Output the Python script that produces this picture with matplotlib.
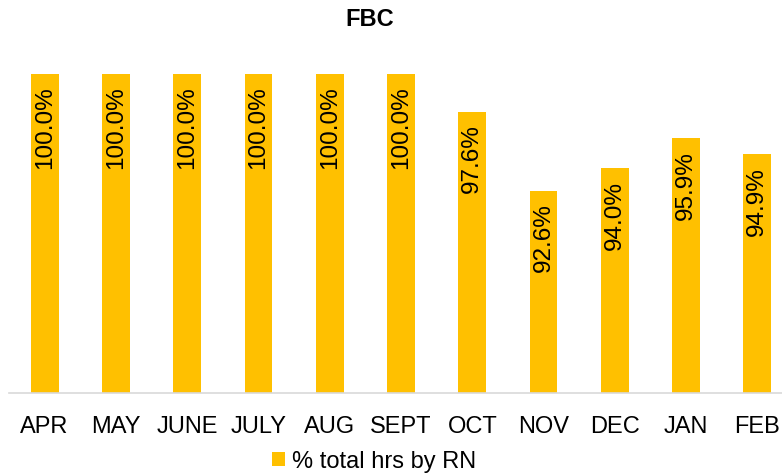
import matplotlib.pyplot as plt
import numpy as np

# chart data
months = ['APR', 'MAY', 'JUNE', 'JULY', 'AUG', 'SEPT', 'OCT', 'NOV', 'DEC', 'JAN', 'FEB']
pct_rn = [1.000, 1.000, 1.000, 1.000, 1.000, 1.000, 0.976, 0.926, 0.940, 0.959, 0.949]
series_name = '% total hrs by RN'

plt.rcParams['font.family'] = ['Liberation Sans', 'DejaVu Sans']

fig = plt.figure(figsize=(7.82, 4.77), dpi=100)
# axes runs a little past the right edge, like the cropped original
ax = fig.add_axes([9 / 782, 83 / 477, 784 / 782, 351 / 477])

x = np.arange(len(months))
bars = ax.bar(x, pct_rn, width=0.39, color='#FFC000', label=series_name, zorder=2)

ax.set_xlim(-0.5, len(months) - 0.5)
ax.set_ylim(0.798, 1.02)

# data labels, rotated, inside the top of each bar
for xi, v in zip(x, pct_rn):
    ax.annotate(f'{v * 100:.1f}%', (xi, v), xytext=(0, -8.5), textcoords='offset points',
                rotation=90, ha='center', va='top', fontsize=17.5, color='black')

ax.set_xticks(x)
ax.set_xticklabels(months, fontsize=17)
ax.tick_params(axis='x', length=0, pad=16)
ax.set_yticks([])

for side in ['top', 'right', 'left']:
    ax.spines[side].set_visible(False)
ax.spines['bottom'].set_color('#D9D9D9')
ax.spines['bottom'].set_linewidth(1.2)

fig.text(370 / 782, 1 - 20 / 477, 'FBC', fontsize=17, fontweight='bold', ha='center', va='center')

fig.legend(handles=[bars], labels=[series_name], loc='center', bbox_to_anchor=(374 / 782, 1 - 462 / 477),
           frameon=False, fontsize=17, handlelength=0.55, handleheight=0.55, handletextpad=0.3)

plt.savefig('out.png', dpi=100)
